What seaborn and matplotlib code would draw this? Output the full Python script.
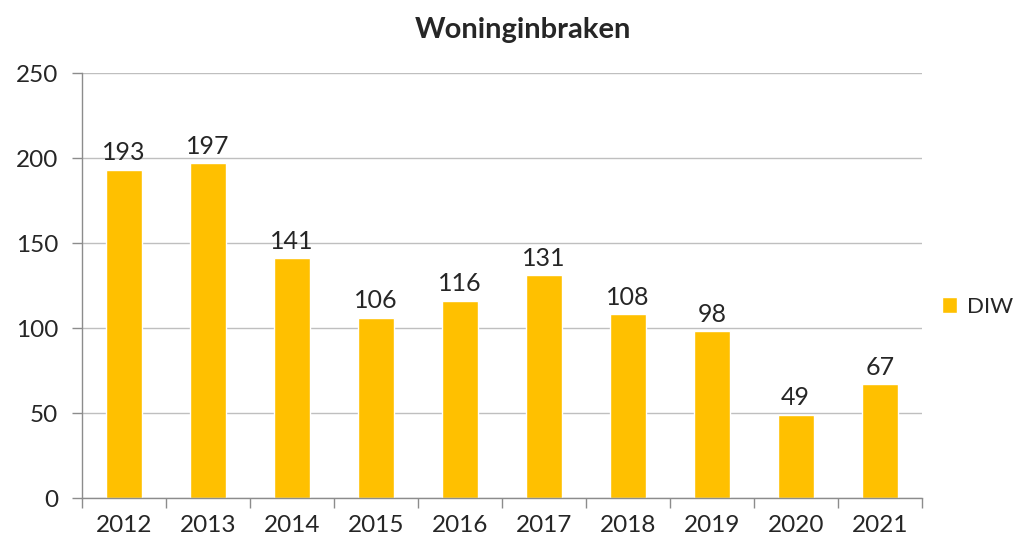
import matplotlib
matplotlib.use("Agg")
import matplotlib.pyplot as plt
import seaborn as sns
import pandas as pd
import numpy as np
from matplotlib.patches import Patch

years = ["2012", "2013", "2014", "2015", "2016", "2017", "2018", "2019", "2020", "2021"]
values = [193, 197, 141, 106, 116, 131, 108, 98, 49, 67]
series_name = "DIW"

df = pd.DataFrame({"Jaar": years, "Aantal": values, "Reeks": series_name})

sns.set_theme(style="white")
plt.rcParams['font.family'] = ['Lato', 'DejaVu Sans']

fig = plt.figure(figsize=(10.29, 5.5), dpi=100)
ax = fig.add_axes([0.0797, 0.0945, 0.816, 0.7725])

color = "#FFC000"
sns.barplot(data=df, x="Jaar", y="Aantal", hue="Reeks", palette=[color],
            width=0.43, ax=ax, legend=False, saturation=1)

for c in ax.containers:
    ax.bar_label(c, padding=4, fontsize=18, color="#262626")

ax.set_ylim(0, 250)
ax.set_yticks(range(0, 251, 50))
ax.set_xlim(-0.5, len(years) - 0.5)
ax.yaxis.grid(True, color="#bfbfbf", linewidth=1)
ax.set_axisbelow(True)
for s in ["top", "right"]:
    ax.spines[s].set_visible(False)
for s in ["left", "bottom"]:
    ax.spines[s].set_color("#8c8c8c")
    ax.spines[s].set_linewidth(1)

ax.set_xlabel("")
ax.set_ylabel("")
ax.tick_params(axis="x", which="major", length=0, labelsize=17.5, labelcolor="#262626", pad=12)
ax.set_xticks(np.arange(-0.5, len(years), 1), minor=True)
ax.tick_params(axis="x", which="minor", length=7, color="#8c8c8c", width=1, direction="out", bottom=True)
ax.tick_params(axis="y", length=7, color="#8c8c8c", width=1, direction="out", labelsize=17.5,
               labelcolor="#262626", left=True, pad=10)

fig.text(0.508, 0.945, "Woninginbraken", ha="center", va="center", fontsize=21,
         fontweight="bold", color="#262626")

fig.legend(handles=[Patch(facecolor=color, label=series_name)], loc="center left",
           bbox_to_anchor=(0.9, 0.442), frameon=False, fontsize=16,
           handlelength=0.7, handleheight=0.7, handletextpad=0.45, labelcolor="#262626",
           borderpad=0.2)

fig.savefig("out.png", dpi=100, facecolor="white")
